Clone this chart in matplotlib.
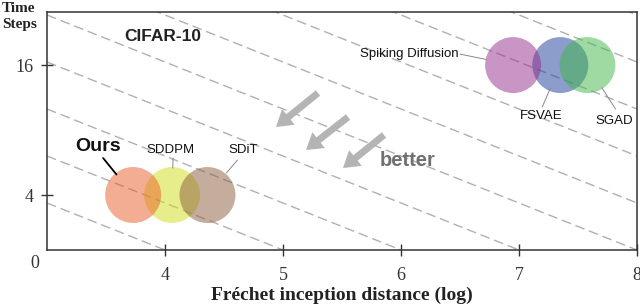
import numpy as np
import matplotlib
matplotlib.use("Agg")
import matplotlib.pyplot as plt
from matplotlib.patches import FancyArrowPatch

# ---- data ----
methods = ["Ours", "SDDPM", "SDiT", "Spiking Diffusion", "FSVAE", "SGAD"]
fid_log = [3.73, 4.06, 4.36, 6.95, 7.35, 7.58]
time_steps = [4, 4, 4, 16, 16, 16]
colors = ["#E95D29", "#D1DD19", "#8B5D3D", "#932D8D", "#1B3D99", "#3FB747"]
zorders = [4, 2, 3, 4, 2, 3]
x_ticks = [4, 5, 6, 7, 8]
y_ticks = [4, 16]
y_tick_labels = ["4", "16"]
iso_anchors = list(range(4, 14))

# y axis: piecewise-linear mapping as in the reference
Y_KN = np.array([0.0, 4.0, 16.0, 100.0])
H_KN = np.array([0.0, 55.0, 185.0, 185.0 + 84.0 * 130.0 / 12.0])
def fwd(y):
    return np.interp(y, Y_KN, H_KN)
def inv(h):
    return np.interp(h, H_KN, Y_KN)

SERIF = "Liberation Serif"
SANS = "Liberation Sans"

fig = plt.figure(figsize=(6.4, 3.07), dpi=100)
ax = fig.add_axes([47/640, 57/307, 590/640, 238/307])
ax.set_yscale("function", functions=(fwd, inv))
ax.set_xlim(3, 8)
ax.set_ylim(0, 20.9)

# iso-lines (dashed diagonals)
k = (47/238) / 0.2
for a in iso_anchors:
    xa = (a - 3) / 5
    ax.plot([0, xa], [k * xa, 0], transform=ax.transAxes, color="#B0B0B0",
            lw=1.0, dashes=(7, 3.5), zorder=1, clip_on=True)

# circles
for m, x, y, c, z in zip(methods, fid_log, time_steps, colors, zorders):
    ax.scatter([x], [y], s=1625, color=c, alpha=0.5, edgecolors="none", zorder=z)

# labels with leader lines (offsets in points from circle centres)
small = dict(family=SANS, size=9.5)
lab = {
    "Ours": dict(txt=(-25.2, 34.6), ls=(-21.6, 26.6), sh=19, color="black", lw=1.3,
                 font=dict(family=SANS, weight="bold", size=14), ha="center"),
    "SDDPM": dict(txt=(-1.4, 32.4), ls=(0.7, 26.6), sh=19.4, color="#888888", lw=0.7,
                  font=small, ha="center"),
    "SDiT": dict(txt=(25.9, 32.4), ls=(21.6, 25.2), sh=21, color="#888888", lw=0.7,
                 font=small, ha="center"),
    "Spiking Diffusion": dict(txt=(-38.9, 7.9), ls=(-38.2, 7.9), sh=19.8, color="#888888", lw=0.7,
                              font=small, ha="right"),
    "FSVAE": dict(txt=(-13.7, -36.7), ls=(-13.0, -30.2), sh=18.2, color="#888888", lw=0.7,
                  font=small, ha="center"),
    "SGAD": dict(txt=(19.4, -40.3), ls=(20.2, -31.7), sh=19.4, color="#888888", lw=0.7,
                 font=small, ha="center"),
}
for m, x, y in zip(methods, fid_log, time_steps):
    d = lab[m]
    ax.annotate(m, xy=(x, y), xytext=d["txt"], textcoords="offset points",
                ha=d["ha"], va="center", color="#111111", zorder=6, **d["font"])
    ax.annotate("", xy=(x, y), xytext=d["ls"], textcoords="offset points",
                arrowprops=dict(arrowstyle="-", color=d["color"], lw=d["lw"],
                                shrinkA=0, shrinkB=d["sh"]), zorder=6)

# "better" arrows
arrows = [((0.4593, 0.6597), (0.3881, 0.5168)),
          ((0.5102, 0.5588), (0.4390, 0.4202)),
          ((0.5712, 0.4832), (0.5017, 0.3445))]
for tail, tip in arrows:
    ar = FancyArrowPatch(tail, tip, transform=ax.transAxes,
                         arrowstyle="simple,head_length=1.15,head_width=1.45,tail_width=0.5",
                         mutation_scale=10, color="#B4B4B4", lw=0, shrinkA=0, shrinkB=0,
                         zorder=5)
    ax.add_patch(ar)
ax.text(0.612, 0.378, "better", transform=ax.transAxes, fontsize=14.5,
        fontweight="bold", family=SANS, color="#707070", ha="center", va="center")

ax.text(0.197, 0.895, "CIFAR-10", transform=ax.transAxes, fontsize=12.5,
        fontweight="bold", family=SANS, color="#222222", ha="center", va="center")

# axes styling
for s in ax.spines.values():
    s.set_color("#333333")
    s.set_linewidth(1.1)
ax.set_xticks(x_ticks)
ax.set_xticklabels([str(t) for t in x_ticks], family=SERIF, fontsize=13, color="#333333")
ax.set_yticks(y_ticks)
ax.set_yticklabels(y_tick_labels, family=SERIF, fontsize=13, color="#333333")
ax.minorticks_off()
ax.tick_params(axis="both", direction="inout", length=9, width=1.0, color="#333333")
ax.tick_params(axis="x", pad=8)
ax.tick_params(axis="y", pad=5)
ax.set_xlabel("Fréchet inception distance (log)", family=SERIF, fontsize=14,
              fontweight="bold", color="#222222", labelpad=2)
ax.annotate("0", xy=(0, 0), xycoords="axes fraction", xytext=(-8.6, -10),
            textcoords="offset points", ha="center", va="center", family=SERIF,
            fontsize=13, color="#333333", annotation_clip=False)
fig.text(2/640, 1 - 2/307, "Time\nSteps", ha="left", va="top", family=SERIF,
         fontsize=11, fontweight="bold", color="#222222", linespacing=1.3)

fig.savefig("out.png", dpi=100)
